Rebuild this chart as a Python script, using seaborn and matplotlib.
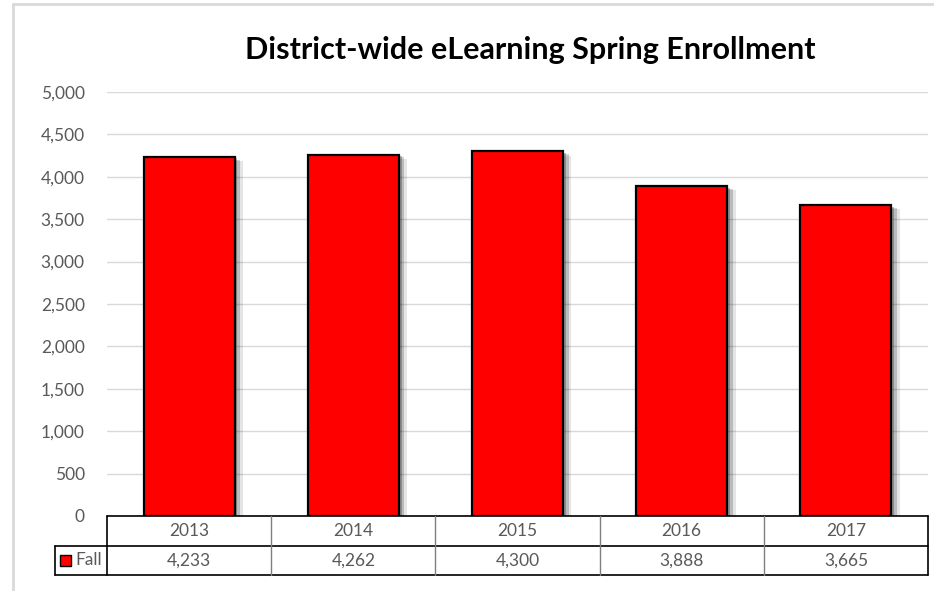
import matplotlib
matplotlib.use("Agg")
import matplotlib.pyplot as plt
import matplotlib.patheffects as pe
from matplotlib.lines import Line2D
from matplotlib.patches import Rectangle
import seaborn as sns

## Data
years = ["2013", "2014", "2015", "2016", "2017"]
fall = [4233, 4262, 4300, 3888, 3665]
series_name = "Fall"
title = "District-wide eLearning Spring Enrollment"
y_ticks = list(range(0, 5001, 500))

sns.set_style("white")
plt.rcParams["font.family"] = ["Lato", "DejaVu Sans"]

W, H = 934, 591
fig = plt.figure(figsize=(W / 100, H / 100), dpi=100)
# plot area in pixels: x 107..928, y 92..516
ax = fig.add_axes([107 / W, (H - 516) / H, (928 - 107) / W, (516 - 92) / H])

shadow = [pe.SimplePatchShadow(offset=(6, -3), shadow_rgbFace="#000000", alpha=0.1),
          pe.SimplePatchShadow(offset=(4, -2), shadow_rgbFace="#000000", alpha=0.18),
          pe.SimplePatchShadow(offset=(2, -1), shadow_rgbFace="#000000", alpha=0.25),
          pe.Normal()]
sns.barplot(x=years, y=fall, color="#ff0000", edgecolor="black", linewidth=1.6,
            width=0.555, saturation=1, ax=ax, zorder=3)
for p in ax.patches:
    p.set_path_effects(shadow)

fs = 12.5
ax.set_ylim(0, 5000)
ax.set_xlim(-0.5, len(years) - 0.5)
ax.set_yticks(y_ticks)
ax.set_yticklabels([f"{v:,}" for v in y_ticks], color="#595959", fontsize=fs)
ax.tick_params(axis="y", length=0, pad=16)
ax.set_xticks([])
ax.set_xlabel("")
ax.grid(axis="y", color="#d9d9d9", linewidth=1, zorder=0)
for s in ax.spines.values():
    s.set_visible(False)

fig.text(530 / W, 1 - 50 / H, title, ha="center", va="center",
         fontsize=22, fontweight="bold", color="black")

# data table below the plot (axes fraction in y, data units in x)
tr = ax.get_xaxis_transform()
px = 1 / (516 - 92)
row_h = 29.5 * px
n = len(years)
lw = 1.2
kw = dict(transform=tr, clip_on=False, color="black", linewidth=lw, zorder=5)
x0, x1 = -0.5, n - 0.5
lab_x0 = -0.5 - 52 / 164.2
# horizontal lines
ax.add_line(Line2D([x0, x1], [0, 0], **kw))
ax.add_line(Line2D([lab_x0, x1], [-row_h, -row_h], **kw))
ax.add_line(Line2D([lab_x0, x1], [-2 * row_h, -2 * row_h], **kw))
# outer verticals
ax.add_line(Line2D([x0, x0], [0, -2 * row_h], **kw))
ax.add_line(Line2D([x1, x1], [0, -2 * row_h], **kw))
ax.add_line(Line2D([lab_x0, lab_x0], [-row_h, -2 * row_h], **kw))
# inner column separators
for i in range(1, n):
    ax.add_line(Line2D([i - 0.5, i - 0.5], [0, -2 * row_h], transform=tr, clip_on=False,
                       color="#7f7f7f", linewidth=1.0, zorder=5))
for i, (yr, v) in enumerate(zip(years, fall)):
    ax.text(i, -0.5 * row_h, yr, transform=tr, ha="center", va="center",
            fontsize=fs, color="#595959")
    ax.text(i, -1.5 * row_h, f"{v:,}", transform=tr, ha="center", va="center",
            fontsize=fs, color="#595959")
# legend key in the row label cell
ax.add_patch(Rectangle((lab_x0 + 5 / 164.2, -1.5 * row_h - 5.5 * px), 11 / 164.2, 11 * px,
                       transform=tr, clip_on=False, facecolor="#ff0000",
                       edgecolor="black", linewidth=1.0, zorder=6))
ax.text(lab_x0 + 20 / 164.2, -1.5 * row_h, series_name, transform=tr, ha="left",
        va="center", fontsize=fs, color="#595959")

# light chart frame
fig.add_artist(Line2D([13 / W, 13 / W], [0, 1 - 4 / H], transform=fig.transFigure,
                      color="#d9d9d9", linewidth=2))
fig.add_artist(Line2D([13 / W, 1], [1 - 4 / H, 1 - 4 / H], transform=fig.transFigure,
                      color="#d9d9d9", linewidth=2))

fig.savefig("out.png", dpi=100)
